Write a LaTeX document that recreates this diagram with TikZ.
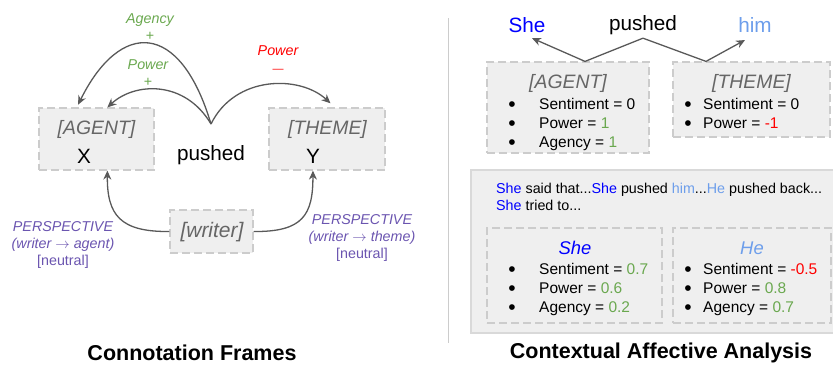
\documentclass[tikz,border=0pt]{standalone}
\usepackage{fontspec}
\setmainfont{Liberation Sans}
\usepackage{xcolor}
\usetikzlibrary{arrows.meta,calc}

\definecolor{cgreen}{HTML}{6AA84F}
\definecolor{cred}{HTML}{FF0000}
\definecolor{cblue}{HTML}{0000FF}
\definecolor{clblue}{HTML}{6D9EEB}
\definecolor{cpurple}{HTML}{6B55B0}
\definecolor{boxfill}{HTML}{EFEFEF}
\definecolor{boxline}{HTML}{CCCCCC}
\definecolor{bigline}{HTML}{D9D9D9}
\definecolor{arrowgray}{HTML}{595959}
\definecolor{titlegray}{HTML}{666666}

\newcommand{\bigfont}{\fontsize{20.7}{25}\selectfont}
\newcommand{\rolefont}{\fontsize{19.4}{23}\selectfont\itshape}
\newcommand{\smallfont}{\fontsize{14.3}{17}\selectfont}
\newcommand{\itemfont}{\fontsize{15.5}{19}\selectfont}
\newcommand{\headfont}{\fontsize{21.5}{26}\selectfont\bfseries}
\newcommand{\toarrow}{$\rightarrow$}

\tikzset{
  frame/.style={draw=boxline, dash pattern=on 8pt off 4pt, line width=1.2pt, fill=boxfill, inner sep=0pt},
  role/.style={font=\rolefont, text=titlegray, inner sep=0pt},
  dot/.style={font=\fontsize{21}{21}\selectfont, inner sep=0pt, text height=14pt, text depth=0pt},
  item/.style={font=\itemfont, anchor=west, inner sep=0pt, text height=11pt, text depth=0pt},
  conn/.style={draw=arrowgray, line width=1.3pt, -{Stealth[length=9pt,width=8pt]}},
}

\begin{document}
\begin{tikzpicture}[x=1pt,y=-1pt]
\useasboundingbox (0,0) rectangle (833,367);

% connotation frame
\node[frame, minimum width=115pt, minimum height=62pt] (agentL) at (96.5,139) {};
\node[frame, minimum width=116pt, minimum height=62pt] (themeL) at (327,139) {};
\node[role] (agentLt) at (96.5,129) {[AGENT]};
\node[role] (themeLt) at (327.5,129) {[THEME]};
\node[font=\bigfont, inner sep=0pt] (x) at (84,156) {X};
\node[font=\bigfont, inner sep=0pt] (y) at (313,156) {Y};
\node[font=\bigfont, inner sep=0pt] (pushedL) at (211,155) {pushed};
\coordinate (apex) at (211,124);

\draw[conn, shorten >=3pt] (apex) .. controls (180,20) and (120,20) .. (agentL.122);
\draw[conn] (apex) .. controls (185,80) and (135,82) .. (agentL.71);
\draw[conn, shorten >=6pt] (apex) .. controls (235,75) and (300,75) .. (themeL.76);

\node[font=\smallfont\itshape, text=cgreen, align=center] (agency) at (150,27.5) {Agency\\{\upshape +}};
\node[font=\smallfont\itshape, text=cgreen, align=center] (powerA) at (148,73.5) {Power\\{\upshape +}};
\node[font=\smallfont\itshape, text=cred, align=center] (powerT) at (278,59.5) {Power\\{\upshape\fontsize{11}{17}\selectfont —}};

\node[frame, minimum width=83pt, minimum height=43pt] (writer) at (211.5,231.5) {};
\node[font=\fontsize{21}{25}\selectfont\itshape, text=titlegray, inner sep=0pt] (writert) at (212,232) {[writer]};
\draw[conn] (writer.west) .. controls (120,232) and (107,215) .. (agentL.-71);
\draw[conn] (writer.east) .. controls (303,232) and (313,215) .. (themeL.-114);

\node[font=\smallfont, text=cpurple, align=center] (perspA) at (63,245) {\itshape PERSPECTIVE\\\itshape (writer \toarrow{} agent)\\{}[neutral]};
\node[font=\smallfont, text=cpurple, align=center] (perspT) at (362,238) {\itshape PERSPECTIVE\\\itshape (writer \toarrow{} theme)\\{}[neutral]};

\draw[boxline, line width=1pt] (448,18) -- (448,343);

% contextual affective analysis
\node[font=\bigfont, text=cblue] (she) at (527,25) {She};
\node[font=\bigfont] (pushedR) at (643,25) {pushed};
\node[font=\bigfont, text=clblue] (him) at (755,25) {him};

\node[frame, minimum width=162pt, minimum height=91pt] (agentR) at (568,107.5) {};
\node[frame, minimum width=157pt, minimum height=75pt] (themeR) at (751.5,99.5) {};
\draw[conn] (pushedR.south) -- ($(agentR.north)+(17,0)$) -- ($(she.south)+(5,2)$);
\draw[conn] (pushedR.south) -- ($(themeR.north)+(-45.5,0)$) -- ($(him.south)+(-10,4)$);

\node[role] (agentRt) at (568,83) {[AGENT]};
\foreach \y/\t [count=\i] in {104/Sentiment = 0, 123/Power = \textcolor{cgreen}{1}, 142/Agency = \textcolor{cgreen}{1}}{
  \node[dot] (agentRb\i) at (512,\y) {•};
  \node[item] (agentRi\i) at (539,\y) {\t};
}
\node[role] (themeRt) at (751.5,83) {[THEME]};
\foreach \y/\t [count=\i] in {104/Sentiment = 0, 123/Power = \textcolor{cred}{-1}}{
  \node[dot] (themeRb\i) at (688,\y) {•};
  \node[item] (themeRi\i) at (703,\y) {\t};
}

\node[draw=bigline, line width=1.5pt, fill=boxfill, minimum width=380pt, minimum height=163pt, inner sep=0pt] (context) at (661,251.5) {};
\node[item, font=\smallfont] (line1) at (496,188) {\textcolor{cblue}{She} said that...\textcolor{cblue}{She} pushed \textcolor{clblue}{him}...\textcolor{clblue}{He} pushed back...};
\node[item, font=\smallfont] (line2) at (496,205) {\textcolor{cblue}{She} tried to...};

\node[frame, minimum width=175pt, minimum height=95pt] (sheBox) at (574.5,275.5) {};
\node[frame, minimum width=158pt, minimum height=95pt] (heBox) at (752,275.5) {};
\node[font=\fontsize{18.4}{22}\selectfont\itshape, text=cblue, inner sep=0pt] (sheT) at (575,248) {She};
\node[font=\fontsize{18.4}{22}\selectfont\itshape, text=clblue, inner sep=0pt] (heT) at (752,248) {He};
\foreach \y/\t [count=\i] in {269/Sentiment = \textcolor{cgreen}{0.7}, 288/Power = \textcolor{cgreen}{0.6}, 307/Agency = \textcolor{cgreen}{0.2}}{
  \node[dot] (sheb\i) at (512,\y) {•};
  \node[item] (shei\i) at (539,\y) {\t};
}
\foreach \y/\t [count=\i] in {269/Sentiment = \textcolor{cred}{-0.5}, 288/Power = \textcolor{cgreen}{0.8}, 307/Agency = \textcolor{cgreen}{0.7}}{
  \node[dot] (heb\i) at (688,\y) {•};
  \node[item] (hei\i) at (703,\y) {\t};
}

\node[font=\headfont] (headL) at (192,353) {Connotation Frames};
\node[font=\headfont] (headR) at (661,353) {Contextual Affective Analysis};
\end{tikzpicture}
\end{document}
